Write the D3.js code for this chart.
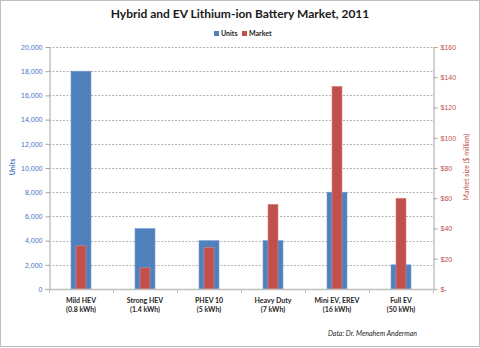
<!DOCTYPE html>
<html><head><meta charset="utf-8">
<script src="https://cdn.jsdelivr.net/npm/d3@7"></script>
<style>body{margin:0;background:#fff;}svg{display:block;font-family:Lato,"Open Sans",sans-serif;}</style>
</head><body>
<script>
const categories = [["Mild HEV","(0.8 kWh)"],["Strong HEV","(1.4 kWh)"],["PHEV 10","(5 kWh)"],["Heavy Duty","(7 kWh)"],["Mini EV, EREV","(16 kWh)"],["Full EV","(50 kWh)"]];
const units = [18000, 5000, 4000, 4000, 8000, 2000];
const market = [28.5, 14, 27.5, 56, 134, 60];
const unitTicks = [0,2000,4000,6000,8000,10000,12000,14000,16000,18000,20000];
const marketTicks = [0,20,40,60,80,100,120,140,160];

const W=480,H=348;
const m={l:49,r:433,t:47,b:289};
const svg=d3.select("body").append("svg").attr("width",W).attr("height",H);
svg.append("rect").attr("x",0.5).attr("y",0.5).attr("width",W-1).attr("height",H-2).attr("fill","#fff").attr("stroke","#bfbfbf");

const x=d3.scaleBand().domain(d3.range(categories.length)).range([m.l,m.r]);
const yU=d3.scaleLinear().domain([0,20000]).range([m.b,m.t]);
const yM=d3.scaleLinear().domain([0,160]).range([m.b,m.t]);
const blue="#4F81BD", red="#C0504D";

// gridlines
svg.append("g").selectAll("line").data(unitTicks.slice(1)).join("line")
 .attr("x1",m.l).attr("x2",m.r).attr("y1",d=>Math.round(yU(d))+0.5).attr("y2",d=>Math.round(yU(d))+0.5)
 .attr("stroke","#b4b4b4").attr("stroke-dasharray","2,1.5").attr("stroke-width",1);

// bars
const cx=i=>x(i)+x.bandwidth()/2;
svg.append("g").selectAll("rect").data(units).join("rect")
 .attr("x",(d,i)=>cx(i)-10).attr("width",20).attr("y",d=>yU(d)).attr("height",d=>m.b-yU(d))
 .attr("fill",blue).attr("stroke","#7a9fd0").attr("stroke-width",0.6);
svg.append("g").selectAll("rect").data(market).join("rect")
 .attr("x",(d,i)=>cx(i)-5).attr("width",10).attr("y",d=>yM(d)).attr("height",d=>m.b-yM(d))
 .attr("fill",red).attr("stroke","#d88a88").attr("stroke-width",0.6);

// left axis
const la=svg.append("g").attr("transform",`translate(${m.l+0.5},0)`)
 .call(d3.axisLeft(yU).tickValues(unitTicks).tickFormat(d3.format(",")).tickSize(4).tickSizeOuter(0));
la.select(".domain").attr("stroke","#a6a6a6");
la.selectAll(".tick line").attr("stroke","#a6a6a6");
la.selectAll("text").attr("fill","#4472C4").attr("font-size",7).attr("x",-7);

// right axis
const ra=svg.append("g").attr("transform",`translate(${m.r+0.5},0)`)
 .call(d3.axisRight(yM).tickValues(marketTicks).tickFormat(d=>d===0?"$-":"$"+d).tickSize(4).tickSizeOuter(0));
ra.select(".domain").attr("stroke","#a6a6a6");
ra.selectAll(".tick line").attr("stroke","#a6a6a6");
ra.selectAll("text").attr("fill","#C0504D").attr("font-size",7).attr("x",7);

// bottom axis
svg.append("line").attr("x1",m.l-4).attr("x2",m.r+4).attr("y1",m.b+0.5).attr("y2",m.b+0.5).attr("stroke","#bfbfbf").attr("stroke-width",1.5);
svg.append("g").selectAll("line").data(d3.range(categories.length+1)).join("line")
 .attr("x1",i=>m.l+i*x.bandwidth()+0.5).attr("x2",i=>m.l+i*x.bandwidth()+0.5).attr("y1",m.b).attr("y2",m.b+4).attr("stroke","#bfbfbf");
const cl=svg.append("g").selectAll("text").data(categories).join("text")
 .attr("x",(d,i)=>cx(i)).attr("y",303).attr("text-anchor","middle").attr("font-size",7).attr("font-weight","bold").attr("fill","#262626");
cl.append("tspan").attr("x",(d,i)=>cx(i)).text(d=>d[0]);
cl.append("tspan").attr("x",(d,i)=>cx(i)).attr("dy",9).text(d=>d[1]);

// title
svg.append("text").attr("x",240).attr("y",18).attr("text-anchor","middle").attr("font-size",12).attr("font-weight","bold").attr("fill","#1a1a1a").text("Hybrid and EV Lithium-ion Battery Market, 2011");

// legend
const lg=svg.append("g").attr("font-size",7).attr("font-weight","bold").attr("fill","#262626");
lg.append("rect").attr("x",214).attr("y",31).attr("width",5).attr("height",5).attr("fill",blue);
lg.append("text").attr("x",221).attr("y",36).text("Units");
lg.append("rect").attr("x",242).attr("y",31).attr("width",5).attr("height",5).attr("fill",red);
lg.append("text").attr("x",249).attr("y",36).text("Market");

// axis titles
svg.append("text").attr("transform","translate(15,167) rotate(-90)").attr("text-anchor","middle").attr("font-size",7).attr("font-weight","bold").attr("fill","#4472C4").text("Units");
svg.append("text").attr("transform","translate(469,167) rotate(-90)").attr("text-anchor","middle").attr("font-size",7).attr("fill","#C0504D").text("Market size ($ million)");

// source
svg.append("text").attr("x",417).attr("y",336).attr("text-anchor","end").attr("font-size",7).attr("font-style","italic").attr("fill","#262626").text("Data: Dr. Menahem Anderman");
</script>
</body></html>
